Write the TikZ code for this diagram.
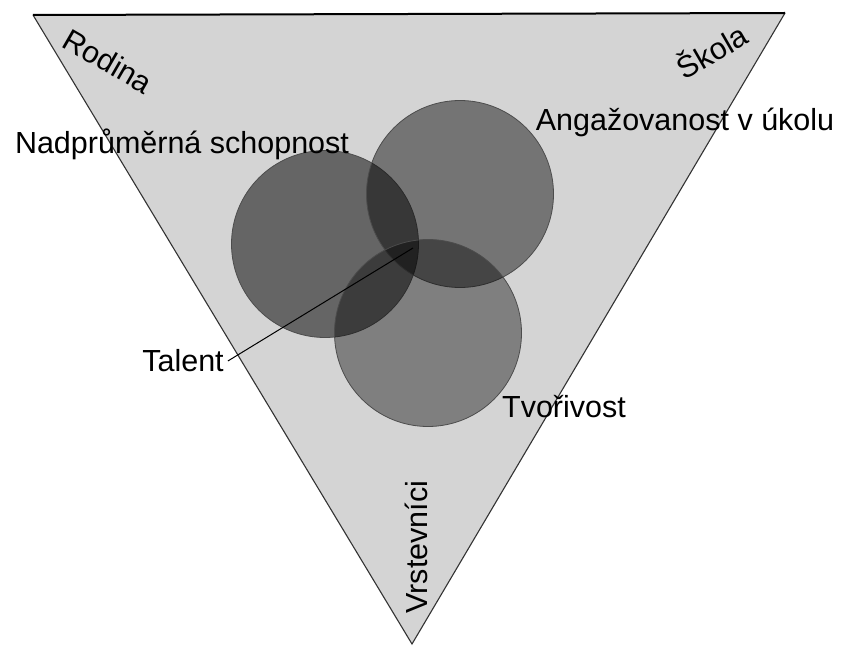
\documentclass[tikz,border=0pt]{standalone}
\usepackage{fontspec}
\setmainfont{Liberation Sans}
\begin{document}
\begin{tikzpicture}[x=1pt, y=-1pt,
    popis/.style={draw=none, inner sep=0pt, node font=\fontsize{30.5}{36}\selectfont},
    kruh/.style={circle, minimum size=187pt, inner sep=0pt, draw=black!70, line width=0.8pt}]

    \useasboundingbox (0,0) rectangle (844,647);
    \fill[white] (0,0) rectangle (844,647);

    \coordinate (levy) at (33,15);
    \coordinate (pravy) at (785,13);
    \coordinate (dolni) at (412,644);
    \fill[black!17] (levy) -- (pravy) -- (dolni) -- cycle;
    \draw[black!80, line width=1.1pt] (pravy) -- (dolni) -- (levy);
    \draw[black, line width=2pt] (levy) -- (pravy);

    \node[kruh, fill=black, fill opacity=0.52] (schopnost) at (325,244) {};
    \node[kruh, fill=black, fill opacity=0.45] (angazovanost) at (460,194) {};
    \node[kruh, fill=black, fill opacity=0.40] (tvorivost) at (428,333) {};

    \node[popis, rotate=-30] (rodina) at (108,61) {Rodina};
    \node[popis, rotate=30] (skola) at (711,50) {Škola};
    \node[popis, rotate=90] (vrstevnici) at (416,547) {Vrstevníci};

    \node[popis] (nadprumerna) at (182,144) {Nadprůměrná schopnost};
    \node[popis] (angazovanostL) at (685,122) {Angažovanost v úkolu};
    \node[popis] (tvorivostL) at (564,407) {Tvořivost};
    \node[popis] (talent) at (183,361) {Talent};

    \coordinate (stred) at (413,248);
    \draw[black, line width=1pt] (talent.east) ++(4,0) -- (stred);

\end{tikzpicture}
\end{document}
